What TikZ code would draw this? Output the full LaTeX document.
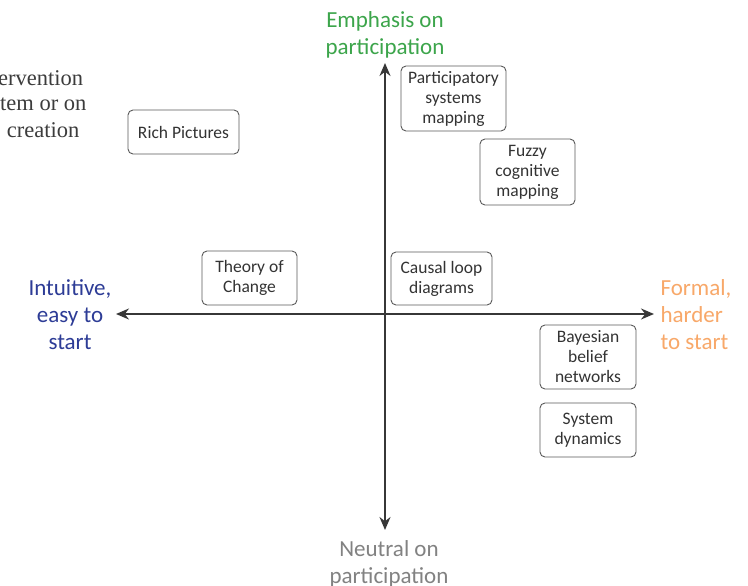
\documentclass[tikz,border=0pt]{standalone}
\usepackage{fontspec}
\setmainfont{Carlito}
\newfontfamily\notefont{Liberation Serif}
\usetikzlibrary{arrows.meta}
\definecolor{axisgray}{RGB}{55,55,55}
\definecolor{boxgray}{RGB}{90,90,90}
\definecolor{partgreen}{RGB}{60,165,75}
\definecolor{intublue}{RGB}{45,60,150}
\definecolor{formorange}{RGB}{248,168,105}
\definecolor{neutgray}{RGB}{130,130,130}
\definecolor{notegray}{RGB}{60,60,60}
\tikzset{
  method/.style={draw=boxgray, line width=0.9pt, rounded corners=5pt, align=center,
    inner sep=0pt, font=\fontsize{17.5}{20}\selectfont, text=black!80},
  axis/.style={draw=axisgray, line width=1.5pt, -{Stealth[length=13pt,width=11pt]}},
  pole/.style={align=center, font=\fontsize{23}{27}\selectfont},
  note/.style={align=left, anchor=west, inner sep=0pt, text=notegray,
    font=\notefont\fontsize{22.5}{26}\selectfont}
}
\begin{document}
\begin{tikzpicture}[x=1pt, y=-1pt]
\useasboundingbox (0,0) rectangle (748,586);
\clip (0,0) rectangle (748,586);
\fill[white] (0,0) rectangle (748,586);

% axes
\coordinate (o) at (385,314);
\coordinate (top) at (385,63);
\coordinate (bot) at (385,530);
\coordinate (lft) at (116,314);
\coordinate (rgt) at (654,314);
\draw[axis] (o) -- (top);
\draw[axis] (o) -- (bot);
\draw[axis] (o) -- (lft);
\draw[axis] (o) -- (rgt);

% pole labels
\node[pole, text=partgreen] (up) at (385,35) {Emphasis on\\participation};
\node[pole, text=neutgray] (down) at (389,564) {Neutral on\\participation};
\node[pole, text=intublue] (left) at (70,315) {Intuitive,\\easy to\\start};
\node[pole, text=formorange, align=left, anchor=west] (right) at (657,315) {Formal,\\harder\\to start};

% partly visible note at the left edge
\node[note] (n1) at (-2,78) {ervention};
\node[note] (n2) at (0,104) {tem or on};
\node[note] (n3) at (1,130) {\ creation};

% methods
\node[method, minimum width=111pt, minimum height=44pt] (rich) at (183.5,132) {Rich Pictures};
\node[method, minimum width=105pt, minimum height=65pt] (psm) at (453.5,98.5) {Participatory\\systems\\mapping};
\node[method, minimum width=95pt, minimum height=66pt] (fcm) at (527.5,172) {Fuzzy\\cognitive\\mapping};
\node[method, minimum width=95pt, minimum height=54pt] (toc) at (249.5,278) {Theory of\\Change};
\node[method, minimum width=101pt, minimum height=53pt] (cld) at (441.5,278.5) {Causal loop\\diagrams};
\node[method, minimum width=96pt, minimum height=64pt] (bbn) at (588,357) {Bayesian\\belief\\networks};
\node[method, minimum width=96pt, minimum height=54pt] (sd) at (588,430) {System\\dynamics};
\end{tikzpicture}
\end{document}
